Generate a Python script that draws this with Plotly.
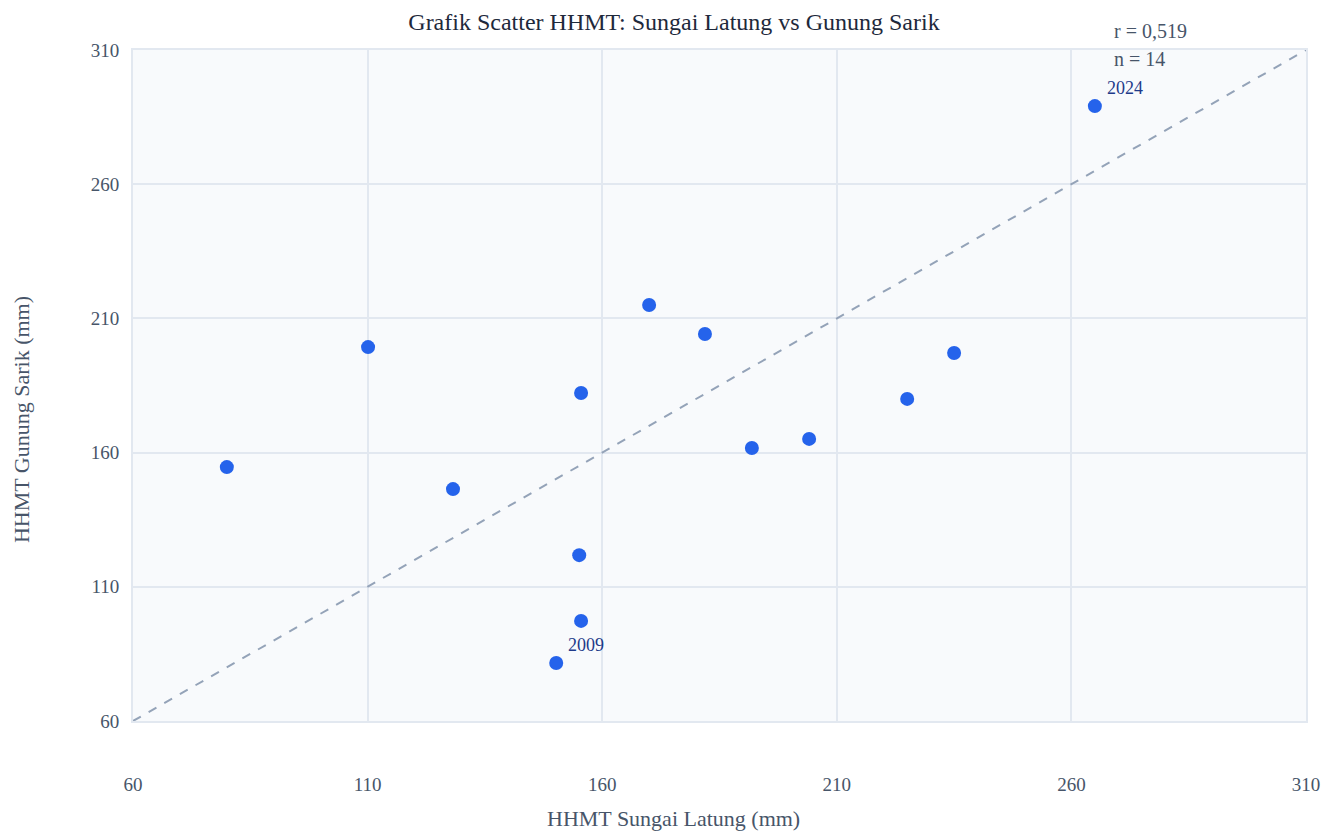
import plotly.graph_objects as go

x_sungai_latung = [80.0, 110.1, 128.2, 155.5, 155.1, 155.5, 150.2, 170.0, 181.9, 191.9, 204.1, 225.0, 235.0, 265.0]
y_gunung_sarik = [154.6, 199.3, 146.4, 182.2, 121.8, 97.3, 81.6, 215.0, 204.2, 161.7, 165.1, 180.0, 197.1, 289.1]
label_points = {"2024": (265.0, 289.1), "2009": (150.2, 81.6)}
axis_range = [60, 310]
tick_vals = [60, 110, 160, 210, 260, 310]
r_text = "r = 0,519"
n_text = "n = 14"
x_title = "HHMT Sungai Latung (mm)"
y_title = "HHMT Gunung Sarik (mm)"

FONT = "Liberation Serif, Times New Roman, serif"

fig = go.Figure()
fig.add_trace(go.Scatter(
    x=axis_range, y=axis_range, mode="lines",
    line=dict(color="#94a3b8", width=2, dash="dash"),
    hoverinfo="skip", showlegend=False,
))
fig.add_trace(go.Scatter(
    x=x_sungai_latung, y=y_gunung_sarik, mode="markers",
    marker=dict(color="#2563eb", size=14),
    showlegend=False,
))

for lab, (px, py) in label_points.items():
    fig.add_annotation(x=px, y=py, text=lab, showarrow=False,
                       xanchor="left", yanchor="middle", xshift=10, yshift=18,
                       font=dict(family=FONT, size=18, color="#1e3a8a"))

fig.add_annotation(xref="paper", yref="paper", x=0.835, y=1.0, text=r_text,
                   showarrow=False, xanchor="left", yanchor="middle", yshift=19,
                   font=dict(family=FONT, size=20, color="#475569"))
fig.add_annotation(xref="paper", yref="paper", x=0.835, y=1.0, text=n_text,
                   showarrow=False, xanchor="left", yanchor="middle", yshift=-9,
                   font=dict(family=FONT, size=20, color="#475569"))

# axis titles (centred on the page, as in the reference)
fig.add_annotation(xref="paper", yref="paper", x=0.4604, y=-0.146, text=x_title,
                   showarrow=False, xanchor="center", yanchor="middle",
                   font=dict(family=FONT, size=22, color="#475569"))
fig.add_annotation(xref="paper", yref="paper", x=-0.0955, y=0.450, text=y_title,
                   showarrow=False, xanchor="center", yanchor="middle", textangle=-90,
                   font=dict(family=FONT, size=22, color="#475569"))

axis_common = dict(
    range=axis_range, tickvals=tick_vals,
    showgrid=True, gridcolor="#e2e8f0", gridwidth=2,
    showline=True, linecolor="#e2e8f0", linewidth=2, mirror=True,
    zeroline=False, ticks="", automargin=False,
    tickfont=dict(family=FONT, size=19, color="#475569"),
)

fig.update_layout(
    width=1336, height=831,
    margin=dict(l=125, r=38, t=42, b=118),
    paper_bgcolor="white", plot_bgcolor="#f8fafc",
    font=dict(family=FONT, color="#475569"),
    title=dict(text="Grafik Scatter HHMT: Sungai Latung vs Gunung Sarik",
               x=0.4985, xanchor="center", y=0.984, yanchor="middle",
               font=dict(family=FONT, size=24, color="#1e293b")),
    xaxis=dict(**axis_common, ticklabelstandoff=45),
    yaxis=dict(**axis_common, ticklabelstandoff=8),
)

fig.write_html("out.html")
